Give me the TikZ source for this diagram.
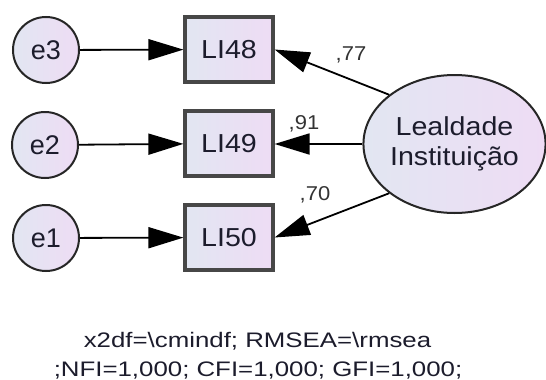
\documentclass[tikz,border=0pt]{standalone}
\usepackage{fontspec}
\setmainfont{Liberation Sans}
\usetikzlibrary{arrows.meta,shapes.geometric}
\definecolor{fillA}{RGB}{226,230,242}
\definecolor{fillB}{RGB}{238,220,244}
\definecolor{inkc}{RGB}{28,28,44}
\newcommand{\wide}[2]{\scalebox{#1}[1]{#2}}
\tikzset{
  errnode/.style={circle, draw=black!85, line width=2pt, minimum size=66pt, inner sep=0pt,
    left color=fillA, right color=fillB, text=inkc, font=\fontsize{27}{30}\selectfont},
  obsnode/.style={rectangle, draw=black!72, line width=3.2pt, minimum width=88pt, minimum height=65pt,
    inner sep=0pt, left color=fillA, right color=fillB, text=inkc, font=\fontsize{26}{30}\selectfont},
  latnode/.style={ellipse, draw=black!85, line width=2pt, minimum width=173pt, minimum height=138pt,
    inner sep=0pt, left color=fillA, right color=fillB, text=inkc, align=center,
    font=\fontsize{26}{30}\selectfont},
  path/.style={draw=black, line width=1.8pt, -{Triangle[length=35pt,width=21pt]}},
  coef/.style={text=black!80, font=\fontsize{20}{22}\selectfont, inner sep=0pt},
  fitline/.style={text=inkc, font=\fontsize{21}{24}\selectfont, inner sep=0pt, anchor=base}
}
\begin{document}
\begin{tikzpicture}[x=1pt,y=-1pt]
\useasboundingbox (0,0) rectangle (546,380);
\fill[white] (0,0) rectangle (546,380);

% error terms
\node[errnode] (e3) at (46,50)  {e3};
\node[errnode] (e2) at (45,145) {e2};
\node[errnode] (e1) at (46,238) {e1};

% observed indicators
\node[obsnode] (li48) at (229,49.5)  {\wide{1.1}{LI48}};
\node[obsnode] (li49) at (229,143.5) {\wide{1.1}{LI49}};
\node[obsnode] (li50) at (229,237.5) {\wide{1.1}{LI50}};

% latent factor
\node[latnode] (lat) at (454.5,144) {\wide{1.1}{Lealdade}\\\wide{1.1}{Instituição}};

% error paths
\draw[path] (e3) -- (li48);
\draw[path] (e2) -- (li49);
\draw[path] (e1) -- (li50);

% loadings
\draw[path] (lat.143) -- (li48.east);
\draw[path] (lat.west) -- (li49.east |- lat.west);
\draw[path] (lat.-143) -- (li50.east);

\node[coef] (c48) at (351,55)  {\wide{1.1}{,77}};
\node[coef] (c49) at (304,124) {\wide{1.1}{,91}};
\node[coef] (c50) at (315,195) {\wide{1.1}{,70}};

% fit indices
\node[fitline] (fit1) at (257.5,347) {\wide{1.23}{x2df=\textbackslash cmindf; RMSEA=\textbackslash rmsea}};
\node[fitline] (fit2) at (258,376.5) {\wide{1.23}{;NFI=1,000; CFI=1,000; GFI=1,000;}};
\end{tikzpicture}
\end{document}
